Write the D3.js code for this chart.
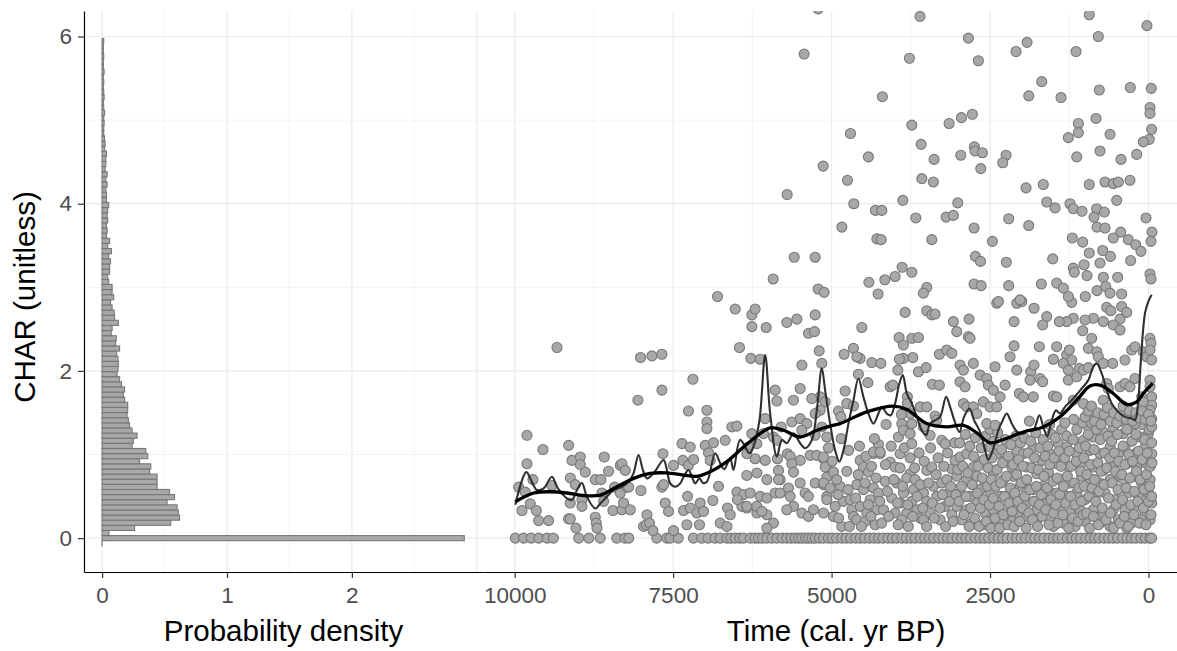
<!DOCTYPE html>
<html><head><meta charset="utf-8">
<script src="https://cdn.jsdelivr.net/npm/d3@7"></script>
<style>
html,body{margin:0;padding:0;background:#fff;}
svg{display:block;font-family:"Liberation Sans",Arial,Helvetica,sans-serif;}
</style></head><body>
<svg id="chart" width="1177" height="651"></svg>
<script>
// ---- histogram of CHAR: bin k is centred on k * binWidth (first bin k = -1)
const binWidth = 0.0613;
const firstBin = -1;
const binDensity = [0, 2.90,
  0.054,0.26,0.55,0.62,0.61,0.60,0.52,0.58,0.54,0.44,0.44,0.44,0.38,0.39,0.30,0.365,0.35,0.24,0.25,0.28,
  0.24,0.22,0.21,0.20,0.205,0.205,0.18,0.17,0.18,0.155,0.14,0.12,0.127,0.13,0.127,0.116,0.14,0.108,0.113,0.073,
  0.08,0.13,0.10,0.097,0.08,0.068,
  0.093,0.08,0.08,0.053,0.045,0.06,0.06,0.067,0.053,0.075,0.045,0.06,0.035,0.04,0.035,0.045,0.04,0.045,0.053,0.035,
  0.035,0.03,0.04,0.03,0.04,0.024,0.03,0.03,0.035,0.02,0.024,0.02,0.013,0.013,
  0.016,0.013,0.02,0.013,0.01,0.016,0.013,0.01,0.013,0.01,0.016,0.01,0.01,0.013,0.01,0.01,0.013];

// ---- CHAR samples [age (cal. yr BP), CHAR]
const zeroSampleAges = [9990,9860,9740,9620,9490,9390,8990,8830,8650,8390,8260,8200,7760,7600,7550,7420,7180,7050,
  6950,6840,6757,6652,6590,6521,6450,6390,6284,6210,6153,6090,6021,5940,5863,5780,5706,5640,5575,5520,5469,5410,5365,5310,5259,5190,5128,5050,
  4990,4920,4840,4770,4700,4620,4550,4480,4400,4330,4260,4190,4110,4040,3970,3890,3820,3750,3680,3600,3530,3460,3390,3310,3240,3170,3100,3020,
  2950,2880,2810,2730,2660,2590,2520,2440,2370,2300,2230,2150,2080,2010,1940,1860,1790,1720,1650,1570,1500,1430,1360,1280,1210,1140,1070,990,
  920,850,780,700,630,560,490,410,340,270,200,120,50,-20,-50];

const earlySamples = [[9938,0.61],[9833,0.55],[9806,1.23],[9806,0.89],[9885,0.33],[9754,0.41],[9712,0.70],[9659,0.33],[9622,0.21],[9554,1.06],
  [9465,0.21],[9412,0.63],[9333,2.28],[9149,1.11],[9123,0.72],[9096,0.93],[9044,0.64],[9150,0.23],[9123,0.23],[9033,0.12],[9123,0.42],[8965,0.97],
  [8965,0.88],[8939,0.46],[8939,0.38],[8886,0.79],[8729,0.70],[8729,0.25],[8713,0.18],[8702,0.12],[8639,0.70],[8623,0.54],[8597,0.44],[8587,0.97],
  [8519,0.80],[8450,0.33],[8424,0.61],[8334,0.54],[8334,0.87],[8308,0.34],[8308,0.89],[8282,0.42],[8255,0.81],[8229,0.61],[8203,0.61],[8177,0.34],
  [8056,1.65],[8014,2.16],[8008,0.57],[7967,0.14],[7924,0.16],[7913,0.28],[7873,0.18],[7835,2.18],[7819,0.09],[7677,2.20],[7677,1.77],[7661,1.01],
  [7677,0.61],[7651,0.64],[7625,0.42],[7573,0.32],[7494,0.87],[7494,0.09],[7360,1.13],[7346,0.93],[7336,0.33],[7283,0.16],[7273,0.50],[7258,1.52],
  [7258,0.87],[7231,1.09],[7231,0.36],[7188,1.90],[7178,0.94],[7125,0.30],[7084,0.16],[7073,0.42],[7021,0.32]];

const midHoloceneSamples = [[6967,1.53],[6967,1.39],[6967,1.31],[6994,1.11],[6863,1.14],[6942,1.02],[6915,0.93],[6873,0.45],[6784,0.62],[6757,0.18],
  [6679,1.17],[6573,1.33],[6494,1.34],[6642,0.36],[6600,0.28],[6652,0.14],[6521,2.74],[6258,2.67],[6206,2.74],[6258,2.53],[6032,2.52],[6800,2.89],
  [6453,2.28],[6274,2.15],[6127,2.14],[5890,1.77],[5863,1.64],[5706,2.58],[5548,2.62],[5259,2.67],[5365,2.45],[5270,2.47],[5196,2.24],[5154,2.09],
  [5469,2.07],[5601,1.65],[5496,1.79],[5627,1.39],[5795,1.33],[5917,1.21],[5863,1.17],[6206,0.95],[6048,0.93],[6337,0.75],[6179,0.78],[6021,0.70],
  [6494,0.55],[6390,0.52],[6284,0.54],[6127,0.50],[6021,0.48],[5890,0.54],[6415,0.38],[6337,0.36],[6179,0.30],[6021,0.28],[5917,0.18],[6021,0.12],
  [5811,0.70],[5811,0.54],[5680,0.60],[5654,0.50],[5601,0.38],[5706,0.34],[5496,0.66],[5417,0.54],[5365,0.50],[5469,0.30],[5365,0.26],[5286,0.34],
  [5259,0.66],[5128,0.64],[5075,0.50],[5128,0.95],[5075,0.85],[5075,0.73],[5496,0.93],[5338,0.99],[5233,0.99],[5259,1.23],[5154,1.33],[5075,1.21],
  [5180,1.69],[5102,1.63],[5311,1.67],[5180,1.53],[5259,1.49],[5496,1.43],[5390,1.37],[5469,1.29],[6048,1.43],[6075,1.25],[6258,1.25],[6179,1.13],
  [6311,1.09],[6337,1.01],[5696,1.01],[5654,0.98],[5627,0.89],[5601,0.79],[5854,0.95],[5838,0.81],[5838,0.70],[6337,0.38],[6179,0.38],[6100,0.32],
  [6485,0.46],[5701,4.11],[5433,5.79],[5133,4.45],[5590,3.36],[5259,3.36],[5922,3.10],[5212,2.98],[5117,2.94],[5212,6.33]];

const lateHighSamples = [[3605,6.24],[2841,5.98],[3772,5.74],[2684,5.71],[2090,5.82],[1916,5.93],[934,6.26],[792,6.00],[1143,5.82],[24,6.13],
  [4198,5.28],[1684,5.46],[1889,5.29],[1380,5.27],[776,5.36],[287,5.39],[-44,5.38],[-24,5.15],[-24,5.08],[-50,4.89],[-13,4.77],[82,4.74],[186,4.59],
  [434,4.53],[607,4.83],[828,5.02],[1107,4.96],[1107,4.85],[1265,4.79],[1132,4.56],[765,4.63],[4702,4.84],[4419,4.56],[4750,4.28],[4649,4.00],
  [4838,3.72],[4308,3.92],[4207,3.92],[3876,4.04],[3671,3.83],[4286,3.58],[4218,3.57],[3734,4.94],[3587,4.71],[3383,4.53],[3576,4.30],[3394,4.26],
  [3146,4.96],[2952,5.03],[2779,5.07],[2747,4.68],[2736,4.63],[2621,4.61],[2962,4.58],[2646,4.42],[2247,4.58],[2299,4.49],[3009,4.01],[3193,3.84],
  [3078,3.86],[3419,3.57],[3887,3.24],[3998,3.13],[4160,3.09],[3734,3.18],[4412,3.06],[4266,2.92],[2752,3.71],[2463,3.55],[2205,3.82],[1889,3.74],
  [2730,3.37],[2650,3.31],[2243,3.30],[2752,3.04],[2641,3.02],[2205,3.02],[1690,3.04],[1932,4.19],[1659,4.23],[1605,4.02],[1474,3.95],[1511,3.34],
  [1202,3.59],[1038,3.54],[1238,4.00],[1186,3.94],[1049,3.91],[817,3.94],[697,3.90],[859,3.84],[812,3.72],[686,3.71],[934,4.23],[686,4.26],
  [555,4.24],[476,4.26],[292,4.28],[502,4.04],[39,3.83],[-55,3.66],[-39,3.55],[439,3.66],[555,3.59],[318,3.57],[202,3.51],[118,3.43],[722,3.44],
  [601,3.37],[934,3.41],[765,3.29],[1017,3.27],[281,3.32],[1186,3.23],[1170,3.18],[970,3.14],[712,3.12],[486,3.12],[-24,3.16],[-39,3.10],[1448,3.05],
  [1343,2.99],[1265,2.89],[997,2.89],[812,2.96],[675,3.01],[607,2.93],[423,2.92],[3498,3.00],[3551,2.93],[2368,2.83],[2026,2.85]];

const lateMidSamples = [[1211,2.82],[659,2.76],[596,2.72],[423,2.77],[344,2.70],[449,2.62],[555,2.55],[449,2.49],[713,2.59],[870,2.63],[1001,2.61],
  [1038,2.48],[1186,2.63],[1290,2.59],[1407,2.59],[1605,2.65],[1669,2.55],[1806,2.75],[2121,2.59],[2394,2.81],[2078,2.81],[1999,2.83],[2831,2.62],
  [3078,2.59],[3025,2.47],[2842,2.41],[2815,2.39],[3498,2.72],[3419,2.67],[3367,2.68],[3840,2.70],[4523,2.52],[3935,2.40],[3867,2.31],[3734,2.39],
  [3630,2.40],[3719,2.16],[3867,2.15],[3930,2.14],[3630,1.99],[3509,2.04],[4077,1.81],[4034,1.83],[3955,2.01],[4365,2.10],[4223,2.09],[4802,2.20],
  [4655,2.27],[4550,2.15],[4602,2.17],[4786,1.76],[4577,1.96],[4428,1.86],[4760,1.61],[4655,1.58],[4892,1.52],[4854,1.45],[4849,1.19],[4140,1.36],
  [4324,1.19],[4340,1.03],[4234,1.03],[3892,1.37],[3945,1.21],[3804,1.69],[3804,1.61],[3761,1.49],[3734,1.37],[3867,1.29],[3761,1.25],[3734,1.13],
  [3898,1.48],[3603,1.57],[3498,1.57],[3551,1.33],[3446,1.23],[3409,1.84],[3299,1.83],[3299,2.20],[3183,2.25],[3103,2.21],[3367,1.46],[3340,1.41],
  [3261,1.17],[3209,1.13],[2973,2.07],[2920,2.01],[2973,1.87],[2894,1.81],[2763,2.09],[2920,1.61],[2867,1.57],[2763,1.57],[2709,1.49],[2657,1.95],
  [2552,1.91],[2526,1.83],[2447,1.77],[2605,1.63],[2500,1.57],[2421,2.05],[2263,1.83],[2552,1.37],[2421,1.35],[2342,1.69],[2394,1.57],[2184,2.17],
  [2079,2.01],[2121,2.30],[2037,1.73],[1974,1.69],[1858,1.99],[1806,2.07],[1869,1.89],[1711,1.91],[1669,1.87],[1722,2.29],[1501,2.14],[1448,2.29],
  [1290,2.19],[1249,2.25],[1211,2.13],[1343,2.09],[1265,2.01],[1091,2.03],[1501,1.70],[1448,1.69],[1817,1.69],[1265,1.89],[1132,1.93],[1186,1.65],
  [1028,1.61],[949,2.27],[896,2.39],[817,2.23],[792,2.17],[1028,2.01],[949,2.04],[870,1.47],[713,2.09],[565,2.09],[659,1.85],[634,1.79],[713,1.65],
  [449,1.81],[371,1.85],[292,1.81],[371,2.13],[265,2.25],[213,2.29],[82,2.23],[28,2.17],[213,1.91],[-24,2.39],[-39,2.33],[-24,2.25],[-50,2.13],
  [-24,1.89],[-24,1.81],[-50,1.69],[-50,1.59],[-24,1.53],[-50,1.43],[-50,1.33],[107,1.69],[82,1.63],[213,1.37],
  [1000,1.45],[950,1.52],[900,1.58],[850,1.40],[800,1.50],[750,1.36],[700,1.48],[650,1.56],[600,1.40],[550,1.50],[500,1.38],[450,1.46],[400,1.58],
  [350,1.42],[300,1.52],[250,1.40],[200,1.50],[150,1.44],[100,1.52],[50,1.42],[0,1.48],[-40,1.40],[1180,1.42],[1320,1.38],[1560,1.36],[1880,1.40]];

const lateLowSamples = [[5127,0.97],[5101,0.85],[4970,0.79],[5127,0.66],[5022,0.60],[4865,0.62],[5075,0.46],[4943,0.38],[4812,0.44],[5127,0.30],
  [4970,0.26],[4838,0.14],[4707,0.46],[4681,0.34],[4654,0.26],
  [4549,0.93],[4497,0.85],[4418,0.79],[4339,1.01],[4234,1.01],[4602,0.64],[4497,0.58],[4339,0.60],[4260,0.54],[4391,0.46],[4549,0.38],[4444,0.30],
  [4286,0.34],[4602,0.22],[4470,0.20],[4313,0.16],[4181,0.34],[4155,0.68],
  [4076,0.91],[3997,0.85],[3918,1.01],[3761,0.77],[3971,0.66],[3813,0.72],[3866,0.54],[3708,0.58],[4050,0.48],[3918,0.42],[3734,0.44],[3997,0.30],
  [3813,0.30],[3892,0.22],[3655,0.34],[3603,0.24],[3682,0.70],
  [3498,0.81],[3419,0.85],[3550,0.54],[3393,0.62],[3261,0.66],[3103,0.83],[3182,0.70],[3498,0.44],[3340,0.50],[3209,0.38],[3550,0.22],[3445,0.30],
  [3287,0.22],[3103,0.28],[3156,0.54],
  [3051,0.93],[2972,0.97],[2867,1.01],[2762,0.85],[2657,0.91],[3025,0.74],[2867,0.70],[2709,0.74],[2578,0.66],[2972,0.54],[2814,0.50],[2657,0.58],
  [3025,0.38],[2867,0.34],[2709,0.42],[2578,0.30],[2946,0.22],[2788,0.18],[2604,0.16],
  [2499,1.09],[2394,1.01],[2262,0.93],[2157,0.85],[2078,1.05],[2446,0.77],[2289,0.70],[2131,0.74],[2026,0.62],[2499,0.54],[2341,0.50],[2157,0.48],
  [2446,0.34],[2262,0.30],[2078,0.38],[2499,0.22],[2341,0.18],[2157,0.20],[2026,0.26],
  [1973,1.01],[1815,1.09],[1684,0.93],[1553,1.01],[1921,0.85],[1763,0.77],[1579,0.79],[1947,0.66],[1815,0.58],[1658,0.62],[1526,0.54],[1921,0.42],
  [1763,0.34],[1605,0.42],[1921,0.26],[1763,0.22],[1553,0.24],[1500,0.14],
  [1421,1.13],[1290,1.09],[1132,1.01],[1027,1.17],[1447,0.89],[1264,0.85],[1080,0.87],[1395,0.70],[1237,0.66],[1053,0.74],[1447,0.54],[1290,0.50],
  [1132,0.54],[1001,0.46],[1395,0.34],[1237,0.30],[1080,0.34],[1342,0.18],[1158,0.14],[1001,0.20],
  [948,1.33],[869,1.21],[712,1.27],[554,1.33],[922,1.05],[764,1.01],[606,1.09],[475,1.01],[869,0.85],[712,0.81],[554,0.85],[922,0.70],[764,0.66],
  [606,0.70],[449,0.74],[843,0.50],[685,0.54],[528,0.46],[869,0.34],[712,0.30],[554,0.34],[764,0.18],[606,0.14],[475,0.22],
  [396,1.25],[265,1.33],[133,1.21],[2,1.25],[370,1.09],[212,1.01],[54,1.09],[-51,1.01],[344,0.89],[186,0.85],[28,0.89],[396,0.70],[238,0.74],
  [107,0.66],[-25,0.70],[317,0.54],[160,0.50],[2,0.54],[370,0.34],[212,0.38],[54,0.30],[-51,0.42],[265,0.18],[107,0.22],[-25,0.22],[344,0.12]];

const lateDenseSamples = [[5050,1.08],[4990,0.92],[4920,0.70],[4900,0.52],[4890,0.24],[4760,0.80],[4740,0.58],[4730,1.05],[4720,0.14],[4620,0.48],
  [4580,0.76],[4560,1.10],[4530,0.14],[4470,0.66],[4460,0.98],[4420,0.40],[4380,0.26],[4370,0.86],[4300,0.72],[4260,1.12],[4240,0.44],[4210,0.18],
  [4150,0.88],[4120,0.56],[4100,0.26],[4060,1.10],[4020,0.70],[3960,0.42],[3950,0.16],[3920,0.84],[3880,0.62],[3850,1.08],[3800,0.40],[3790,0.14],
  [3760,0.96],[3720,0.26],[3690,0.84],[3650,0.50],[3620,1.02],[3600,0.64],[3560,0.36],[3540,0.92],[3500,0.14],[3470,0.66],[3440,1.08],[3410,0.42],
  [3380,0.24],[3350,0.76],[3320,0.96],[3290,0.36],[3250,0.52],[3230,0.86],[3200,0.14],[3170,1.02],[3140,0.44],[3120,0.62],[3080,0.20],[3060,1.14],
  [3040,0.52],[3010,0.82],
  [2990,0.44],[2980,1.14],[2950,0.62],[2930,0.86],[2910,0.28],[2890,1.24],[2880,0.50],[2850,0.78],[2830,0.14],[2820,1.10],[2800,0.36],[2780,0.64],
  [2760,0.98],[2740,0.24],[2730,1.20],[2700,0.54],[2690,0.86],[2670,0.14],[2650,0.36],[2640,1.08],[2620,0.72],[2600,0.46],[2590,0.94],[2570,1.22],
  [2560,0.20],[2540,0.62],[2530,0.84],[2510,0.40],[2500,1.30],[2490,0.12],
  [2480,0.70],[2470,0.96],[2450,0.48],[2440,1.16],[2420,0.24],[2410,0.62],[2390,0.82],[2380,1.26],[2360,0.38],[2350,0.12],[2330,0.66],[2320,1.06],
  [2300,0.90],[2290,0.28],[2270,0.50],[2260,1.18],[2240,0.74],[2220,0.16],[2210,0.98],[2200,0.42],[2180,0.60],[2170,1.12],[2150,0.32],[2140,0.88],
  [2120,0.14],[2110,0.54],[2090,1.22],[2080,0.76],[2060,0.44],[2050,0.94],[2030,0.20],[2020,1.14],[2010,0.66],
  [1990,0.36],[1980,0.86],[1960,1.20],[1950,0.50],[1930,0.12],[1920,0.70],[1900,1.02],[1890,0.30],[1870,0.58],[1860,1.16],[1840,0.84],[1830,0.22],
  [1810,0.44],[1800,0.96],[1780,1.26],[1770,0.62],[1750,0.14],[1740,0.82],[1720,0.40],[1710,1.08],[1690,0.52],[1680,0.26],[1660,1.18],[1650,0.74],
  [1630,0.98],[1620,0.34],[1600,0.60],[1590,1.10],[1570,0.16],[1560,0.88],[1540,0.46],[1530,1.24],[1510,0.68],[1500,0.30],
  [1490,0.96],[1470,1.20],[1460,0.40],[1440,0.72],[1430,0.18],[1410,1.04],[1400,0.52],[1380,0.86],[1370,1.30],[1350,0.28],[1340,0.62],[1320,0.96],
  [1310,0.42],[1290,1.22],[1280,0.74],[1260,0.12],[1250,1.04],[1230,0.50],[1220,0.86],[1200,0.24],[1190,1.18],[1170,0.66],[1160,0.40],[1140,0.92],
  [1130,1.30],[1110,0.20],[1100,0.60],[1090,1.08],[1070,0.80],[1060,0.44],[1040,1.38],[1030,0.28],[1020,0.96],[1010,0.62],
  [990,1.10],[980,0.30],[970,0.76],[950,1.24],[940,0.50],[930,0.12],[910,0.88],[900,1.38],[890,0.60],[870,0.26],[860,1.06],[850,0.70],[830,0.44],
  [820,1.30],[800,0.90],[790,0.16],[780,0.56],[760,1.18],[750,0.80],[730,0.36],[720,1.42],[700,0.64],[690,1.02],[670,0.22],[660,0.84],[640,1.22],
  [630,0.48],[610,0.96],[600,0.30],[580,1.16],[570,0.66],[550,0.12],[540,1.02],[520,0.80],[510,0.40],
  [490,1.24],[480,0.58],[470,0.92],[450,0.18],[440,1.40],[420,0.76],[410,0.46],[400,1.10],[380,0.26],[370,0.88],[350,0.60],[340,1.30],[320,0.14],
  [310,1.00],[290,0.72],[280,0.40],[260,1.16],[250,0.92],[230,0.28],[220,0.56],[200,1.24],[190,0.80],[170,0.44],[160,1.04],[140,0.18],[130,0.70],
  [110,1.36],[100,0.94],[80,0.36],[70,0.58],[60,1.18],[40,0.16],[30,0.76],[20,1.02],[0,0.44],[-10,1.30],[-20,0.62],[-30,0.86],[-40,0.28],[-50,1.14],
  [-50,0.50],[-55,0.90]];

// ---- fitted curves [age, CHAR]
const shortTrend = [[9990,0.40],[9817,0.79],[9727,0.67],[9648,0.575],[9544,0.595],[9412,0.735],[9333,0.615],[9175,0.475],[9096,0.455],[9017,0.575],
  [8939,0.66],[8860,0.495],[8729,0.355],[8650,0.415],[8571,0.475],[8440,0.575],[8308,0.615],[8203,0.675],[8125,0.775],[8046,0.995],[7977,0.815],
  [7913,0.715],[7809,0.775],[7651,0.935],[7598,0.815],[7546,0.655],[7467,0.615],[7388,0.655],[7320,0.755],[7257,0.815],[7204,0.735],[7152,0.655],
  [7084,0.715],[7030,0.66],[6967,0.675],[6836,1.015],[6757,0.895],[6694,0.825],[6600,0.955],[6548,0.815],[6442,1.175],[6295,1.015],[6232,1.095],
  [6138,1.41],[6048,2.19],[5969,1.49],[5863,0.975],[5784,1.175],[5706,1.135],[5601,1.255],[5496,1.135],[5417,1.075],[5311,1.175],[5233,1.53],
  [5154,2.03],[5102,1.77],[5023,1.37],[4944,1.05],[4876,0.915],[4813,1.05],[4734,1.37],[4655,1.65],[4577,1.91],[4498,1.69],[4419,1.49],[4340,1.37],
  [4261,1.49],[4207,1.57],[4129,1.49],[4066,1.47],[3998,1.61],[3930,1.85],[3876,1.95],[3813,1.73],[3734,1.61],[3655,1.45],[3577,1.29],[3509,1.23],
  [3446,1.37],[3367,1.41],[3288,1.45],[3193,1.69],[3130,1.57],[3063,1.41],[2984,1.27],[2910,1.45],[2826,1.55],[2752,1.41],[2657,1.27],[2578,1.05],
  [2526,0.94],[2457,1.05],[2369,1.29],[2299,1.41],[2236,1.49],[2157,1.37],[2069,1.27],[1974,1.25],[1896,1.29],[1817,1.29],[1722,1.47],[1659,1.33],
  [1596,1.22],[1527,1.41],[1459,1.53],[1396,1.49],[1317,1.57],[1186,1.67],[1053,1.79],[949,1.89],[870,2.05],[817,2.09],[738,1.97],[659,1.77],
  [580,1.61],[476,1.51],[371,1.45],[265,1.43],[213,1.41],[161,1.65],[123,2.09],[55,2.69],[3,2.83],[-50,2.91]];

const longTrend = [[9990,0.435],[9701,0.54],[9438,0.555],[9175,0.54],[8913,0.51],[8650,0.515],[8386,0.615],[8124,0.715],[7861,0.775],[7598,0.78],
  [7336,0.755],[7125,0.74],[6915,0.795],[6652,0.915],[6390,1.09],[6127,1.25],[5969,1.32],[5759,1.29],[5496,1.21],[5233,1.29],[5023,1.34],[4865,1.37],
  [4444,1.51],[4024,1.58],[3813,1.54],[3498,1.37],[3183,1.33],[2920,1.35],[2709,1.26],[2500,1.14],[2290,1.18],[1974,1.27],[1659,1.33],[1396,1.45],
  [1132,1.65],[923,1.82],[765,1.83],[555,1.73],[344,1.60],[186,1.63],[82,1.73],[-66,1.85]];

// ---- axis breaks and labels
const charTicks = [0, 2, 4, 6];
const densityTicks = [0, 1, 2];
const ageTicks = [10000, 7500, 5000, 2500, 0];
const yTitle = "CHAR (unitless)";
const densityTitle = "Probability density";
const ageTitle = "Time (cal. yr BP)";

// ---- layout
const svg = d3.select("#chart");
const panelTop = 11, panelBottom = 572, panelLeft = 84, panelSplit = 483, panelRight = 1177;

const y = d3.scaleLinear().domain([-0.405, 6.305]).range([panelBottom, panelTop]);
const xDensity = d3.scaleLinear().domain([-0.145, 3.05]).range([panelLeft, panelSplit]);
const xAge = d3.scaleLinear().domain([10500, -450]).range([panelSplit, panelRight]);

svg.append("defs").append("clipPath").attr("id", "panel")
  .append("rect").attr("x", panelLeft).attr("y", panelTop)
  .attr("width", panelRight - panelLeft).attr("height", panelBottom - panelTop);

// grid
const grid = svg.append("g").attr("stroke", "#ebebeb").attr("fill", "none");
d3.range(0, 6.5, 1).forEach(v => {
  grid.append("line").attr("x1", panelLeft).attr("x2", panelRight).attr("y1", y(v)).attr("y2", y(v))
    .attr("stroke-width", v % 2 === 0 ? 1.2 : 0.6);
});
d3.range(0, 3.01, 0.5).forEach(v => {
  grid.append("line").attr("x1", xDensity(v)).attr("x2", xDensity(v)).attr("y1", panelTop).attr("y2", panelBottom)
    .attr("stroke-width", Number.isInteger(v) ? 1.2 : 0.6);
});
d3.range(0, 10001, 1250).forEach(v => {
  grid.append("line").attr("x1", xAge(v)).attr("x2", xAge(v)).attr("y1", panelTop).attr("y2", panelBottom)
    .attr("stroke-width", v % 2500 === 0 ? 1.2 : 0.6);
});

const marks = svg.append("g").attr("clip-path", "url(#panel)");

// histogram bars
const bins = binDensity.map((d, i) => ({ centre: (i + firstBin) * binWidth, density: d }));
marks.append("g").selectAll("rect").data(bins).join("rect")
  .attr("x", xDensity(0))
  .attr("y", d => y(d.centre + binWidth / 2))
  .attr("width", d => Math.max(0.01, xDensity(d.density) - xDensity(0)))
  .attr("height", d => y(d.centre - binWidth / 2) - y(d.centre + binWidth / 2))
  .attr("fill", "#a8a8a8").attr("stroke", "#777777").attr("stroke-width", 1.1);

// samples
const samples = [].concat(zeroSampleAges.map(a => [a, 0]), earlySamples, midHoloceneSamples,
  lateLowSamples, lateDenseSamples, lateMidSamples, lateHighSamples);
marks.append("g").selectAll("circle").data(samples).join("circle")
  .attr("cx", d => xAge(d[0])).attr("cy", d => y(d[1])).attr("r", 5)
  .attr("fill", "#a8a8a8").attr("stroke", "#787878").attr("stroke-width", 1.1);

// curves
const curve = d3.line().x(d => xAge(d[0])).y(d => y(d[1])).curve(d3.curveCatmullRom.alpha(0.5));
marks.append("path").attr("d", curve(shortTrend)).attr("fill", "none")
  .attr("stroke", "#303030").attr("stroke-width", 2.1).attr("stroke-linejoin", "round");
marks.append("path").attr("d", curve(longTrend)).attr("fill", "none")
  .attr("stroke", "#000000").attr("stroke-width", 3.3).attr("stroke-linejoin", "round");

// axes
function styleAxis(g) {
  g.select(".domain").attr("stroke", "#000").attr("stroke-width", 1.2);
  g.selectAll(".tick line").attr("stroke", "#333").attr("stroke-width", 1.2);
  g.selectAll(".tick text").attr("fill", "#4d4d4d").style("font-size", "22.5px")
    .style("font-family", '"Liberation Sans", Arial, sans-serif');
}
svg.append("g").attr("transform", `translate(${panelLeft},0)`)
  .call(d3.axisLeft(y).tickValues(charTicks).tickFormat(d3.format("d")).tickSize(6).tickPadding(6).tickSizeOuter(0))
  .call(styleAxis);
svg.append("g").attr("transform", `translate(0,${panelBottom})`)
  .call(d3.axisBottom(xDensity).tickValues(densityTicks).tickFormat(d3.format("d")).tickSize(6).tickPadding(9).tickSizeOuter(0))
  .call(styleAxis);
svg.append("g").attr("transform", `translate(0,${panelBottom})`)
  .call(d3.axisBottom(xAge).tickValues(ageTicks).tickFormat(d3.format("d")).tickSize(6).tickPadding(9).tickSizeOuter(0))
  .call(styleAxis);

// titles
const titleFont = { size: "29.5px", colour: "#000" };
svg.append("text").attr("x", (panelLeft + panelSplit) / 2).attr("y", 641).attr("text-anchor", "middle")
  .style("font-size", titleFont.size).attr("fill", titleFont.colour).text(densityTitle);
svg.append("text").attr("x", 836).attr("y", 641).attr("text-anchor", "middle")
  .style("font-size", titleFont.size).attr("fill", titleFont.colour).text(ageTitle);
svg.append("text").attr("transform", "translate(35,297) rotate(-90)").attr("text-anchor", "middle")
  .style("font-size", titleFont.size).attr("fill", titleFont.colour).text(yTitle);
</script>
</body></html>
